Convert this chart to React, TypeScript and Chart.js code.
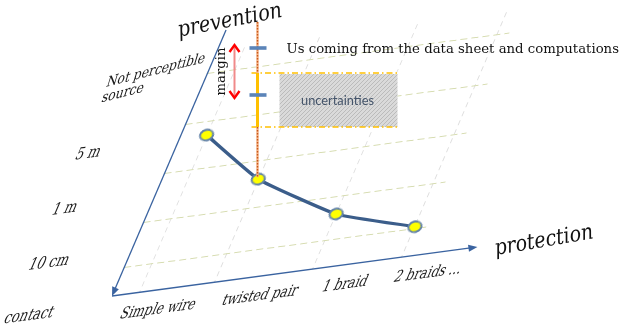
import React, { useEffect, useRef } from 'react';
import { Chart, registerables } from 'chart.js';

Chart.register(...registerables);

// ---------------- data ----------------
const protectionCategories = ['Simple wire', 'twisted pair', '1 braid', '2 braids ...'];
const protectionPositions = [0.9, 3.38, 6.64, 9.6];
const protectionLabelPositions = [1.82, 5.2, 8.01, 10.76];
const distanceLabels = ['contact', '10 cm', '1 m', '5 m'];
const distanceLabelPositions = [-0.56, 1.62, 3.87, 6.12];
const topDistanceLabel = ['Not perceptible', 'source'];
const topDistanceLabelPosition = 9.09;
const distanceGridLevels = [1.18, 2.98, 5.02, 7.02, 9.1];
const exposureLevels = [6.42, 4.21, 2.25, 1.24];
const axisLengths = { protection: 12.1, prevention: 10.86 };
const highlightedIndex = 1;
const axisTitles = { x: 'protection', y: 'prevention' };
const noteText = 'Us coming from the data sheet and computations';
const bandText = 'uncertainties';
const marginText = 'margin';

// ---------------- layout of the oblique plane ----------------
const ORIGIN = { x: 112, y: 296 };
const SKEW_X = 0.4286;
const SLOPE = 0.134;
const AREA_W = 302;
const AREA_H = 245;
const SERIF = "'DejaVu Serif', serif";
const TEXT_STRETCH = 1.3;
const DISTANCE_LABEL_INDENT = [79, 82, 90, 90];

type M = { a: number; b: number; c: number; d: number; e: number; f: number };

function matrixOf(chart: any): M {
  const { left: L, right: R, top: T, bottom: B } = chart.chartArea;
  const sx = AREA_W / (R - L);
  const sy = AREA_H / (B - T);
  return {
    a: sx,
    b: -SLOPE * sx,
    c: -SKEW_X * sy,
    d: sy,
    e: ORIGIN.x - sx * L + SKEW_X * sy * B,
    f: ORIGIN.y + SLOPE * sx * L - sy * B,
  };
}

function fitFont(ctx: CanvasRenderingContext2D, text: string, style: string, family: string, width: number) {
  ctx.font = `${style} 20px ${family}`;
  const w = ctx.measureText(text).width || 1;
  const size = (20 * width) / w;
  ctx.font = `${style} ${size}px ${family}`;
  return size;
}

function makeEllipsePoint(): HTMLCanvasElement {
  const c = document.createElement('canvas');
  c.width = 32;
  c.height = 32;
  const g = c.getContext('2d')!;
  const det = 1 - SKEW_X * SLOPE;
  g.setTransform(1 / det, SLOPE / det, SKEW_X / det, 1 / det, 16, 16);
  g.beginPath();
  g.ellipse(0, 0, 6.8, 5.1, -0.35, 0, Math.PI * 2);
  g.fillStyle = '#FFFF00';
  g.fill();
  g.lineWidth = 2;
  g.strokeStyle = '#6383A8';
  g.stroke();
  return c;
}

function drawArrow(ctx: CanvasRenderingContext2D, from: any, to: any, color: string) {
  const ang = Math.atan2(to.y - from.y, to.x - from.x);
  const len = 9;
  const half = 3.6;
  ctx.save();
  ctx.strokeStyle = color;
  ctx.fillStyle = color;
  ctx.lineWidth = 1.3;
  ctx.beginPath();
  ctx.moveTo(from.x, from.y);
  ctx.lineTo(to.x - Math.cos(ang) * (len - 2), to.y - Math.sin(ang) * (len - 2));
  ctx.stroke();
  ctx.beginPath();
  ctx.moveTo(to.x, to.y);
  ctx.lineTo(to.x - Math.cos(ang) * len - Math.sin(ang) * half, to.y - Math.sin(ang) * len + Math.cos(ang) * half);
  ctx.lineTo(to.x - Math.cos(ang) * len + Math.sin(ang) * half, to.y - Math.sin(ang) * len - Math.cos(ang) * half);
  ctx.closePath();
  ctx.fill();
  ctx.restore();
}

function stretchedText(ctx: CanvasRenderingContext2D, text: string, x: number, y: number) {
  ctx.save();
  ctx.translate(x, y);
  ctx.scale(1, TEXT_STRETCH);
  ctx.fillText(text, 0, 0);
  ctx.restore();
}

function drawOverlay(chart: any) {
  const ctx: CanvasRenderingContext2D = chart.ctx;
  const m = matrixOf(chart);
  const S = (x: number, y: number) => ({ x: m.a * x + m.c * y + m.e, y: m.b * x + m.d * y + m.f });
  const xs = chart.scales.x;
  const ys = chart.scales.y;
  const area = chart.chartArea;

  // axes with arrows
  const o = S(xs.getPixelForValue(0), ys.getPixelForValue(0));
  const xTip = S(xs.getPixelForValue(axisLengths.protection), ys.getPixelForValue(0));
  const yTop = S(xs.getPixelForValue(0), ys.getPixelForValue(axisLengths.prevention));
  drawArrow(ctx, o, xTip, '#3A63A0');
  drawArrow(ctx, yTop, o, '#3A63A0');

  // labels lying in the oblique plane
  ctx.save();
  ctx.setTransform(m.a, m.b, m.c, m.d, m.e, m.f);
  ctx.fillStyle = '#1a1a1a';
  fitFont(ctx, 'Simple wire', '', SERIF, 75);
  ctx.textAlign = 'center';
  ctx.textBaseline = 'middle';
  protectionCategories.forEach((lab, i) => {
    stretchedText(ctx, lab, xs.getPixelForValue(protectionLabelPositions[i]), area.bottom + 21);
  });
  fitFont(ctx, '10 cm', '', SERIF, 40);
  ctx.textBaseline = 'alphabetic';
  distanceLabels.forEach((lab, i) => {
    stretchedText(ctx, lab, area.left - DISTANCE_LABEL_INDENT[i], ys.getPixelForValue(distanceLabelPositions[i]));
  });
  const sz = fitFont(ctx, topDistanceLabel[0], '', SERIF, 94);
  ctx.translate(area.left - 102, ys.getPixelForValue(topDistanceLabelPosition));
  ctx.rotate(-0.13);
  ctx.textAlign = 'left';
  stretchedText(ctx, topDistanceLabel[0], 0, 0);
  stretchedText(ctx, topDistanceLabel[1], 0, sz * 1.35);
  ctx.restore();

  // axis titles
  ctx.save();
  ctx.fillStyle = '#111';
  ctx.textAlign = 'center';
  ctx.textBaseline = 'middle';
  ctx.save();
  ctx.translate(230, 21);
  ctx.rotate(-0.19);
  fitFont(ctx, axisTitles.y, 'italic', SERIF, 106);
  ctx.scale(1, 1.15);
  ctx.fillText(axisTitles.y, 0, 0);
  ctx.restore();
  ctx.save();
  ctx.translate(544, 241);
  ctx.rotate(-0.17);
  fitFont(ctx, axisTitles.x, 'italic', SERIF, 100);
  ctx.scale(1, 1.15);
  ctx.fillText(axisTitles.x, 0, 0);
  ctx.restore();
  ctx.restore();

  // annotation around the highlighted solution
  const el = chart.getDatasetMeta(0).data[highlightedIndex];
  const P = S(el.x, el.y);
  const lx = Math.round(P.x) - 0.5;
  const topY = 22;
  const usY = 48;
  const lowY = 95;
  const bandTop = 73;
  const bandBot = 127;

  // hatched uncertainty box
  const pc = document.createElement('canvas');
  pc.width = 4;
  pc.height = 4;
  const pctx = pc.getContext('2d')!;
  pctx.fillStyle = '#DADADA';
  pctx.fillRect(0, 0, 4, 4);
  pctx.strokeStyle = '#BBBBBB';
  pctx.lineWidth = 1;
  pctx.beginPath();
  pctx.moveTo(0, 4);
  pctx.lineTo(4, 0);
  pctx.moveTo(-1, 1);
  pctx.lineTo(1, -1);
  pctx.moveTo(3, 5);
  pctx.lineTo(5, 3);
  pctx.stroke();
  ctx.save();
  ctx.fillStyle = ctx.createPattern(pc, 'repeat')!;
  ctx.fillRect(lx + 22, bandTop + 1, 118, bandBot - bandTop - 1);
  ctx.restore();

  ctx.save();
  ctx.fillStyle = '#44546A';
  ctx.textAlign = 'center';
  ctx.textBaseline = 'middle';
  fitFont(ctx, bandText, '', "Lato, 'Open Sans', sans-serif", 73);
  ctx.fillText(bandText, lx + 80, 101);
  ctx.restore();

  // dash-dot band borders
  ctx.save();
  ctx.strokeStyle = '#FFC000';
  ctx.lineWidth = 1.5;
  ctx.setLineDash([6, 3, 1.5, 3]);
  ctx.beginPath();
  ctx.moveTo(lx - 6, bandTop);
  ctx.lineTo(lx + 141, bandTop);
  ctx.moveTo(lx - 6, bandBot);
  ctx.lineTo(lx + 141, bandBot);
  ctx.stroke();
  ctx.restore();

  // vertical dotted line
  ctx.save();
  ctx.strokeStyle = '#F4B183';
  ctx.lineWidth = 2.4;
  ctx.beginPath();
  ctx.moveTo(lx, topY);
  ctx.lineTo(lx, P.y - 2);
  ctx.stroke();
  ctx.strokeStyle = '#C8571A';
  ctx.lineWidth = 1.4;
  ctx.setLineDash([1.5, 1.5]);
  ctx.beginPath();
  ctx.moveTo(lx, topY);
  ctx.lineTo(lx, P.y - 2);
  ctx.stroke();
  ctx.setLineDash([]);
  ctx.strokeStyle = '#FFC000';
  ctx.lineWidth = 3;
  ctx.beginPath();
  ctx.moveTo(lx, bandTop);
  ctx.lineTo(lx, bandBot);
  ctx.stroke();
  ctx.restore();

  // blue ticks
  ctx.save();
  ctx.fillStyle = '#5B84B8';
  ctx.fillRect(lx - 8, usY - 1.8, 17, 3.6);
  ctx.fillRect(lx - 8, lowY - 1.8, 17, 3.6);
  ctx.restore();

  // margin double arrow
  const ax = lx - 23;
  ctx.save();
  ctx.strokeStyle = '#F08A8A';
  ctx.lineWidth = 2;
  ctx.beginPath();
  ctx.moveTo(ax, 47);
  ctx.lineTo(ax, 96);
  ctx.stroke();
  ctx.strokeStyle = '#FF0000';
  ctx.lineWidth = 2.4;
  ctx.lineJoin = 'miter';
  ctx.beginPath();
  ctx.moveTo(ax - 5, 52);
  ctx.lineTo(ax, 45);
  ctx.lineTo(ax + 5, 52);
  ctx.moveTo(ax - 5, 91);
  ctx.lineTo(ax, 98);
  ctx.lineTo(ax + 5, 91);
  ctx.stroke();
  ctx.restore();

  // margin text
  ctx.save();
  ctx.translate(ax - 13, 71.5);
  ctx.rotate(-Math.PI / 2);
  ctx.fillStyle = '#111';
  ctx.textAlign = 'center';
  ctx.textBaseline = 'middle';
  fitFont(ctx, marginText, '', SERIF, 48);
  ctx.fillText(marginText, 0, 0);
  ctx.restore();

  // note text
  ctx.save();
  ctx.fillStyle = '#111';
  ctx.textAlign = 'left';
  ctx.textBaseline = 'alphabetic';
  fitFont(ctx, noteText, '', SERIF, 333);
  ctx.fillText(noteText, lx + 29, 52.5);
  ctx.restore();
}

const skewPlugin = {
  id: 'obliquePlane',
  beforeDraw(chart: any) {
    const m = matrixOf(chart);
    chart.ctx.save();
    chart.ctx.setTransform(m.a, m.b, m.c, m.d, m.e, m.f);
  },
  afterDraw(chart: any) {
    chart.ctx.restore();
    drawOverlay(chart);
  },
};

export default function App() {
  const ref = useRef<HTMLCanvasElement | null>(null);
  useEffect(() => {
    document.body.style.margin = '0';
    const canvas = ref.current!;
    const pointImage = makeEllipsePoint();
    const chart = new Chart(canvas, {
      type: 'scatter',
      data: {
        datasets: [
          {
            data: protectionPositions.map((x, i) => ({ x, y: exposureLevels[i] })),
            showLine: true,
            borderColor: '#3B5D8A',
            borderWidth: 2.8,
            tension: 0.12,
            pointStyle: pointImage,
            pointRadius: 7,
            clip: false as any,
          } as any,
        ],
      },
      options: {
        animation: false,
        responsive: false,
        events: [],
        layout: { padding: { left: 100, right: 221, top: 40, bottom: 43 } },
        plugins: { legend: { display: false }, tooltip: { enabled: false }, title: { display: false } },
        scales: {
          x: {
            type: 'linear',
            min: 0,
            max: 10,
            grid: { color: '#DEDEDE', lineWidth: 1, drawTicks: false, borderDash: [5, 4] } as any,
            border: { display: false, dash: [5, 4] },
            ticks: { display: false },
            afterBuildTicks: (s: any) => {
              s.ticks = protectionPositions.map((v) => ({ value: v }));
            },
          },
          y: {
            type: 'linear',
            min: 0,
            max: 10,
            grid: { color: '#D5DBAE', lineWidth: 1, drawTicks: false, borderDash: [7, 4] } as any,
            border: { display: false, dash: [7, 4] },
            ticks: { display: false },
            afterBuildTicks: (s: any) => {
              s.ticks = distanceGridLevels.map((v) => ({ value: v }));
            },
          },
        },
      } as any,
      plugins: [skewPlugin],
    });
    return () => chart.destroy();
  }, []);
  return (
    <div style={{ width: 623, height: 328, background: '#fff' }}>
      <canvas ref={ref} width={623} height={328} style={{ display: 'block' }} />
    </div>
  );
}
